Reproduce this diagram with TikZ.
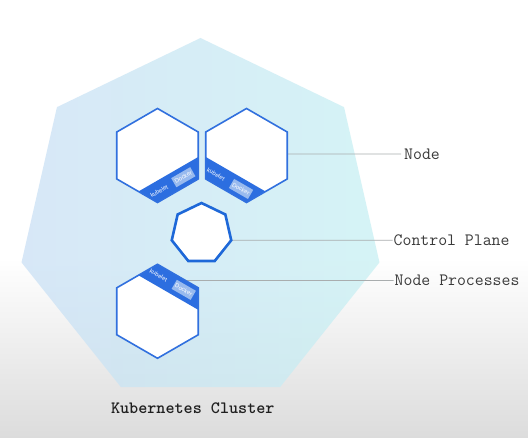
\documentclass[tikz,border=0pt]{standalone}
\usepackage{fontspec}
\newfontfamily\smallsans{Liberation Sans}
\newfontfamily\ttbold{lmmonolt10-bold.otf}
\usetikzlibrary{calc}
\definecolor{bggray}{RGB}{220,220,220}
\definecolor{heptL}{HTML}{CAE0F5}
\definecolor{heptR}{HTML}{C8F0F3}
\definecolor{kblue}{HTML}{3170DE}
\definecolor{bandblue}{HTML}{2C6EE0}
\definecolor{dockbox}{HTML}{98BAEE}
\definecolor{cpblue}{HTML}{1E68D8}
\definecolor{leadgray}{HTML}{A9ADAE}
\definecolor{lbltext}{HTML}{3A3A3A}
\tikzset{
  hexshape/.style={fill=white, draw=kblue, line width=1.6pt},
  bandfill/.style={fill=bandblue},
  kubetext/.style={font=\smallsans\fontsize{6}{7}\selectfont, text=white, inner sep=0pt},
  dockerbox/.style={font=\smallsans\fontsize{6}{7}\selectfont, text=white, fill=dockbox, minimum width=22pt, minimum height=10.5pt, inner sep=0pt},
  cpshape/.style={fill=white, draw=cpblue, line width=2.6pt},
  leader/.style={draw=leadgray, line width=0.8pt},
  lbl/.style={font=\ttfamily\fontsize{17.3}{20}\selectfont, text=lbltext, anchor=west, inner xsep=1pt, inner ysep=0pt},
  titletext/.style={font=\ttbold\fontsize{17.3}{20}\selectfont, text=black!88}
}
\begin{document}
\begin{tikzpicture}[x=1pt,y=1pt]
\useasboundingbox (0,0) rectangle (528,438);
\fill[white] (0,0) rectangle (528,438);
\shade[top color=white, bottom color=bggray] (0,0) rectangle (528,180);

% cluster heptagon
\foreach \k in {0,...,6}
  \coordinate (C\k) at ($(200.5pt,216.4pt)+({90+\k*360/7}:183.6pt)$);
\shade[left color=heptL, right color=heptR, fill opacity=0.75]
  (C0)--(C1)--(C2)--(C3)--(C4)--(C5)--(C6)--cycle;

% hexagon corners
\foreach \n/\cx/\cy in {a/157.5/282.5, b/246.5/282.5, c/157.5/126.7}{
  \foreach \a in {30,90,150,210,270,330}
    \coordinate (\n\a) at ($(\cx pt,\cy pt)+(\a:47pt)$);
}
% control plane corners
\foreach \k in {0,...,6}
  \coordinate (s\k) at ($(201.5pt,204.5pt)+({90+\k*360/7}:30.5pt)$);

% leader anchor points and labels
\coordinate (h2r) at ($(b330)!0.53!(b30)$);
\coordinate (h3r) at ($(c90)!0.69!(c30)$);
\node[lbl, inner xsep=3pt] (lnode) at (401,284) {Node};
\node[lbl] (lcp) at (392.5,197.7) {Control Plane};
\node[lbl] (lnp) at (393.5,157.5) {Node Processes};
\draw[leader] (h2r) -- (lnode.west);
\draw[leader] (s5) -- (lcp.west);
\draw[leader] (h3r) -- (lnp.west);

% hexagon A (top left) - band along lower right edge
\fill[white] (a90)--(a150)--(a210)--(a270)--(a330)--(a30)--cycle;
\fill[bandfill] ($(a330)!0.468!(a30)$)--(a330)--(a270)--($(a270)!0.468!(a210)$)--cycle;
\draw[hexshape, fill=none] (a90)--(a150)--(a210)--(a270)--(a330)--(a30)--cycle;
\begin{scope}[shift={(a270)}, rotate=30]
  \node[kubetext, rotate=30] (ka) at (7,9) {kubelet};
  \node[dockerbox, rotate=30] (da) at (35,9) {Docker};
\end{scope}

% hexagon B (top right) - band along lower left edge
\fill[white] (b90)--(b150)--(b210)--(b270)--(b330)--(b30)--cycle;
\fill[bandfill] ($(b210)!0.468!(b150)$)--(b210)--(b270)--($(b270)!0.468!(b330)$)--cycle;
\draw[hexshape, fill=none] (b90)--(b150)--(b210)--(b270)--(b330)--(b30)--cycle;
\begin{scope}[shift={(b210)}, rotate=-30]
  \node[kubetext, rotate=-30] (kb) at (6.5,9) {kubelet};
  \node[dockerbox, rotate=-30] (db) at (35.5,9) {Docker};
\end{scope}

% hexagon C (bottom) - band along upper right edge
\fill[white] (c90)--(c150)--(c210)--(c270)--(c330)--(c30)--cycle;
\fill[bandfill] ($(c90)!0.468!(c150)$)--(c90)--(c30)--($(c30)!0.468!(c330)$)--cycle;
\draw[hexshape, fill=none] (c90)--(c150)--(c210)--(c270)--(c330)--(c30)--cycle;
\begin{scope}[shift={(c90)}, rotate=-30]
  \node[kubetext, rotate=-30] (kc) at (6.5,-9) {kubelet};
  \node[dockerbox, rotate=-30] (dc) at (35.5,-9) {Docker};
\end{scope}

% control plane heptagon
\draw[cpshape] (s0)--(s1)--(s2)--(s3)--(s4)--(s5)--(s6)--cycle;

% title
\node[titletext] (title) at (192.8,30) {Kubernetes Cluster};
\end{tikzpicture}
\end{document}
